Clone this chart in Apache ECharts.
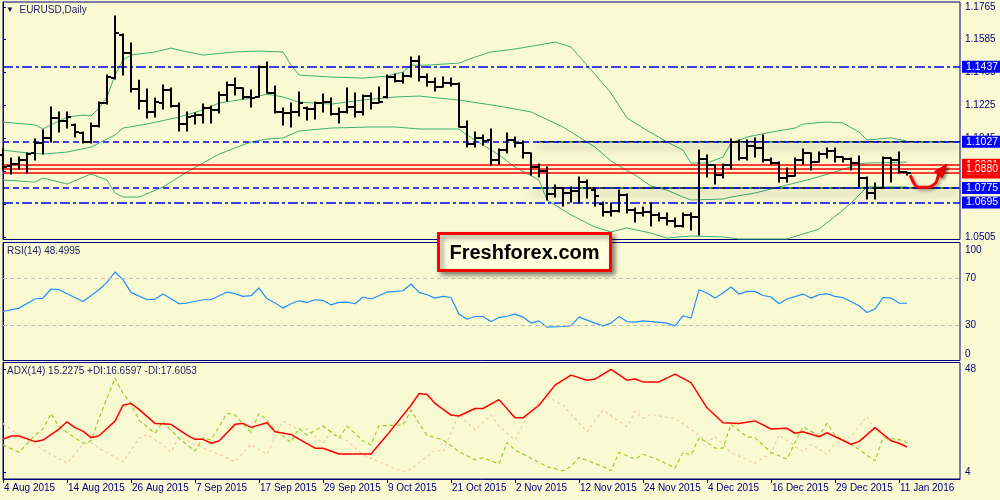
<!DOCTYPE html>
<html><head><meta charset="utf-8">
<script src="https://cdn.jsdelivr.net/npm/echarts@6/dist/echarts.min.js"></script>
<style>html,body{margin:0;padding:0;background:#FAFAD2}#c{width:1000px;height:500px}</style>
</head><body><div id="c"></div>
<script>
// ---- tick labels / categories ----
const dateLabels = ['4 Aug 2015','14 Aug 2015','26 Aug 2015','7 Sep 2015','17 Sep 2015','29 Sep 2015','9 Oct 2015','21 Oct 2015','2 Nov 2015','12 Nov 2015','24 Nov 2015','4 Dec 2015','16 Dec 2015','29 Dec 2015','11 Jan 2016'];
const barsPerLabel = 8;
const priceTicks = [1.0505,1.0685,1.0865,1.1045,1.1225,1.1405,1.1585,1.1765];
const rsiTicks = [0,30,70,100];
const rsiLevels = [30,70];
const adxTicks = [4,48];

// ---- daily OHLC bars (EURUSD) ----
const open = [1.0955,1.0895,1.0906,1.0927,1.0966,1.1020,1.1048,1.1157,1.1141,1.1119,
1.1075,1.1026,1.1113,1.1239,1.1375,1.1610,1.1512,1.1315,1.1250,1.1190,
1.1239,1.1310,1.1222,1.1124,1.1168,1.1173,1.1211,1.1201,1.1283,1.1337,
1.1321,1.1272,1.1272,1.1435,1.1293,1.1190,1.1184,1.1190,1.1211,1.1206,
1.1239,1.1244,1.1179,1.1190,1.1217,1.1190,1.1277,1.1239,1.1272,1.1381,
1.1359,1.1386,1.1468,1.1381,1.1354,1.1326,1.1348,1.1343,1.1108,1.1015,
1.1048,1.1037,1.0927,1.0982,1.1037,1.1020,1.0966,1.0889,1.0867,1.0742,
1.0774,1.0747,1.0758,1.0807,1.0763,1.0687,1.0643,1.0649,1.0736,1.0654,
1.0638,1.0643,1.0627,1.0610,1.0594,1.0567,1.0627,1.0616,1.0933,1.0900,
1.0845,1.0900,1.1026,1.0938,1.1004,1.0993,1.0927,1.0911,1.0829,1.0840,
1.0927,1.0966,1.0916,1.0960,1.0977,1.0944,1.0933,1.0911,1.0829,1.0747,
1.0774,1.0938,1.0927,1.0862];
const high = [1.0987,1.0938,1.0944,1.0966,1.1042,1.1091,1.1217,1.1190,1.1190,1.1124,
1.1080,1.1130,1.1244,1.1392,1.1714,1.1616,1.1567,1.1364,1.1315,1.1266,
1.1337,1.1321,1.1239,1.1190,1.1184,1.1233,1.1222,1.1299,1.1354,1.1375,
1.1321,1.1310,1.1441,1.1463,1.1332,1.1211,1.1239,1.1299,1.1217,1.1244,
1.1288,1.1266,1.1211,1.1321,1.1293,1.1283,1.1293,1.1326,1.1392,1.1397,
1.1403,1.1490,1.1496,1.1397,1.1375,1.1381,1.1375,1.1348,1.1141,1.1080,
1.1064,1.1097,1.0987,1.1075,1.1053,1.1031,1.0966,1.0906,1.0889,1.0791,
1.0774,1.0780,1.0835,1.0818,1.0774,1.0698,1.0692,1.0763,1.0742,1.0665,
1.0671,1.0692,1.0638,1.0638,1.0610,1.0638,1.0638,1.0982,1.0955,1.0900,
1.0906,1.1042,1.1037,1.1037,1.1048,1.1064,1.0938,1.0916,1.0884,1.0938,
1.0987,1.0966,1.0971,1.0993,1.0993,1.0944,1.0938,1.0949,1.0835,1.0802,
1.0944,1.0938,1.0971,1.0862];
const low = [1.0873,1.0851,1.0878,1.0856,1.0927,1.0960,1.1026,1.1080,1.1102,1.1053,
1.1020,1.1020,1.1108,1.1233,1.1370,1.1392,1.1299,1.1206,1.1157,1.1162,
1.1206,1.1217,1.1086,1.1086,1.1124,1.1130,1.1130,1.1184,1.1250,1.1283,
1.1261,1.1217,1.1272,1.1293,1.1184,1.1119,1.1108,1.1168,1.1146,1.1151,
1.1190,1.1173,1.1130,1.1184,1.1162,1.1173,1.1206,1.1239,1.1266,1.1354,
1.1348,1.1381,1.1359,1.1332,1.1304,1.1326,1.1332,1.1108,1.0998,1.0998,
1.1009,1.0900,1.0906,1.0966,1.0998,1.0938,1.0845,1.0835,1.0709,1.0725,
1.0676,1.0698,1.0692,1.0720,1.0676,1.0621,1.0621,1.0643,1.0638,1.0588,
1.0621,1.0567,1.0594,1.0572,1.0561,1.0561,1.0545,1.0517,1.0835,1.0796,
1.0829,1.0878,1.0927,1.0927,1.0944,1.0916,1.0906,1.0807,1.0807,1.0840,
1.0906,1.0873,1.0916,1.0938,1.0916,1.0916,1.0873,1.0780,1.0714,1.0714,
1.0774,1.0807,1.0856,1.0845];
const close = [1.0889,1.0906,1.0927,1.0960,1.1020,1.1048,1.1157,1.1141,1.1162,1.1080,
1.1026,1.1113,1.1239,1.1381,1.1621,1.1512,1.1315,1.1250,1.1190,1.1244,
1.1310,1.1222,1.1124,1.1162,1.1173,1.1211,1.1201,1.1283,1.1337,1.1321,
1.1272,1.1266,1.1435,1.1293,1.1190,1.1184,1.1190,1.1239,1.1206,1.1239,
1.1244,1.1179,1.1190,1.1217,1.1190,1.1277,1.1239,1.1244,1.1381,1.1359,
1.1386,1.1468,1.1381,1.1354,1.1326,1.1348,1.1343,1.1108,1.1015,1.1048,
1.1031,1.0927,1.0982,1.1037,1.1020,1.0966,1.0889,1.0867,1.0742,1.0774,
1.0747,1.0758,1.0807,1.0774,1.0731,1.0643,1.0649,1.0736,1.0654,1.0638,
1.0643,1.0627,1.0610,1.0594,1.0567,1.0627,1.0616,1.0933,1.0900,1.0845,
1.0900,1.1026,1.0938,1.1004,1.0993,1.0927,1.0911,1.0829,1.0840,1.0927,
1.0966,1.0916,1.0960,1.0977,1.0944,1.0933,1.0911,1.0829,1.0747,1.0774,
1.0938,1.0927,1.0862,1.0856];

// ---- Bollinger bands [barIndex, price] ----
const bbUpper = [[0,1.1135],[4,1.1119],[5,1.1097],[6,1.1119],[8,1.1162],[10,1.1173],[11,1.1168],[12,1.1211],[13,1.1272],[14,1.1392],[15,1.1474],[16,1.1501],[19,1.1518],[21,1.1539],[23,1.1518],[25,1.1501],[29,1.1518],[32,1.1523],[35,1.1518],[36,1.1446],[37,1.1392],[41,1.1381],[45,1.1375],[48,1.1386],[50,1.1408],[51,1.1446],[53,1.1446],[57,1.1457],[59,1.1490],[61,1.1518],[64,1.1534],[67,1.1556],[69,1.1572],[71,1.1545],[73,1.1446],[76,1.1293],[78,1.1157],[80,1.1102],[83,1.1026],[85,1.0982],[86,1.0911],[88,1.0911],[90,1.0944],[91,1.1020],[93,1.1053],[96,1.1080],[99,1.1102],[100,1.1124],[103,1.1135],[105,1.1130],[107,1.1080],[108,1.1037],[111,1.1048],[113,1.1031]];
const bbMiddle = [[0,1.0982],[2,1.0971],[5,1.0960],[8,1.0971],[11,1.0998],[12,1.1020],[14,1.1064],[15,1.1102],[18,1.1124],[22,1.1162],[25,1.1201],[27,1.1239],[31,1.1266],[33,1.1288],[35,1.1272],[37,1.1244],[41,1.1233],[45,1.1255],[49,1.1272],[52,1.1277],[57,1.1255],[62,1.1222],[66,1.1190],[70,1.1108],[74,1.0998],[76,1.0922],[79,1.0845],[81,1.0785],[83,1.0763],[85,1.0725],[86,1.0709],[90,1.0714],[91,1.0725],[94,1.0747],[97,1.0780],[101,1.0824],[104,1.0862],[107,1.0906],[108,1.0911],[113,1.0916]];
const bbLower = [[0,1.0818],[4,1.0807],[5,1.0829],[8,1.0796],[11,1.0851],[13,1.0818],[14,1.0747],[15,1.0725],[17,1.0725],[20,1.0780],[23,1.0862],[27,1.0960],[31,1.1026],[33,1.1042],[35,1.1048],[37,1.1086],[41,1.1102],[46,1.1108],[49,1.1108],[52,1.1097],[57,1.1097],[58,1.1064],[62,1.0955],[64,1.0889],[67,1.0818],[68,1.0709],[71,1.0627],[74,1.0561],[76,1.0534],[78,1.0556],[81,1.0528],[83,1.0501],[86,1.0512],[90,1.0507],[92,1.0496],[98,1.0496],[102,1.0550],[105,1.0654],[106,1.0692],[108,1.0780],[113,1.0780]];

// ---- horizontal levels ----
const dashDotLevels = [1.1437,1.0695];
const channelLevels = [1.1027,1.0775];
const channelStart = [66.8,66.2];
const redLevels = [1.0901,1.0859,1.0880];
const forecastPath = [[113.4,1.0845],[114.4,1.0778],[115.5,1.0778],[116.6,1.0803],[117.0,1.0851],[117.8,1.0894]];

// ---- RSI(14) [barIndex, value] ----
const rsi = [[0,41.5],[2,44.4],[4,52.1],[5,52.9],[6,60.6],[7,60],[10,50],[12,60],[13,66.2],[14,75],[15,68.5],[16,57.7],[18,51.5],[19,52],[20,56.3],[21,52.3],[22,48.1],[23,48.7],[25,51.5],[26,51.5],[28,58],[29,56.6],[30,54.3],[31,54.9],[32,61.4],[33,52.3],[34,48.7],[35,44.4],[36,48.1],[37,50.6],[38,49.2],[39,51.5],[40,50.9],[41,47.2],[42,49.2],[43,49.5],[44,48.1],[45,53.8],[46,52.1],[47,54.9],[48,58],[50,59.1],[51,64.8],[52,57.7],[53,55.7],[54,52.9],[55,54.3],[56,53.4],[57,39.3],[58,35],[59,37.3],[60,37.3],[61,33],[62,36.5],[63,37.5],[64,39.3],[65,36.8],[66,31.7],[67,33.6],[68,28.3],[70,28.8],[71,29.6],[72,36.8],[74,31.7],[75,29.4],[76,31.7],[77,37.3],[78,33],[79,32.5],[80,33.6],[81,33],[83,31.7],[84,29.4],[85,37.9],[86,35.9],[87,60],[88,57.2],[89,52.9],[90,57.2],[91,62.3],[92,56.3],[93,58.6],[94,58.6],[95,55.1],[96,53.8],[97,48.1],[98,52.1],[100,56.3],[101,52.9],[102,55.7],[103,56.6],[104,54.3],[105,53.4],[107,46.4],[108,40.7],[109,43.6],[110,53.4],[111,52.9],[112,48.7],[113,48.5]];

// ---- ADX(14), +DI, -DI [barIndex, value] ----
const adx = [[0,18.1],[1,19.5],[2,19.5],[4,17.1],[5,17.8],[7,22.5],[8,25.6],[9,23.1],[10,21.6],[11,18.8],[12,19.6],[14,25.9],[15,32.7],[16,33.5],[17,30.9],[19,24.9],[21,24.5],[23,19.9],[24,18.1],[25,18.1],[26,16.4],[27,17.4],[28,20.9],[29,24.5],[30,24.9],[31,23.2],[33,25.2],[34,21.3],[36,20.2],[37,18.2],[39,14.3],[40,14.3],[42,11.8],[46,11.8],[48,19.9],[51,32.7],[52,37.7],[53,37.3],[54,33.5],[56,28.5],[57,28.1],[59,31.3],[60,31.3],[62,35.1],[64,27.3],[65,27.3],[67,32.7],[69,41.3],[71,45.6],[73,43.4],[74,43.9],[76,48.1],[78,43.4],[79,43.9],[80,42.7],[82,42.7],[84,46],[86,42.4],[88,31.6],[90,25.2],[92,24.9],[94,26],[96,22.5],[98,22.8],[99,20.7],[100,21.3],[102,19.2],[103,20.9],[106,16],[107,17.1],[109,23.1],[111,17.5],[112,16.4],[113,14.8]];
const plusDI = [[0,15.7],[2,12.5],[4,19.9],[5,22.5],[6,29.2],[7,23.5],[10,16.4],[11,17.4],[12,27.1],[14,44.4],[15,37.7],[16,33.5],[17,26.3],[19,20.7],[20,25.6],[22,18.5],[24,13.1],[25,18.8],[26,17.8],[28,29.2],[29,28.5],[31,21.1],[32,29.2],[33,26.3],[34,22.1],[36,16.8],[37,22.8],[38,19.9],[40,23.8],[42,18.5],[43,23.8],[45,17.4],[46,15.7],[47,23.9],[50,24.2],[51,30.6],[52,24.9],[53,19.9],[55,17.8],[57,12.8],[59,9.3],[60,10.2],[62,7.6],[63,16.8],[64,13.5],[66,10],[68,6.4],[70,4.6],[71,6.4],[72,10.4],[75,6.4],[76,4.6],[77,12.5],[79,9.6],[80,11.7],[82,9.3],[84,5.7],[85,12.5],[86,11.4],[87,18.8],[88,16.8],[89,14.3],[90,14.3],[91,24.5],[93,19.2],[94,18.8],[96,12.5],[98,9.6],[99,16.8],[100,23.5],[102,19.6],[103,24.9],[104,19.9],[107,13.8],[109,8.8],[110,18.8],[112,18.1],[113,16.6]];
const minusDI = [[0,24.9],[2,19.9],[4,15.7],[6,11.7],[8,7.8],[10,16],[11,16.8],[12,14.3],[15,8.5],[17,18.5],[18,20.2],[20,15.7],[21,12.5],[22,19.2],[25,14.3],[27,11.7],[29,8.5],[31,16],[33,11.7],[35,25.9],[37,22.1],[38,22.5],[40,16.4],[41,21.3],[43,17.4],[45,11.4],[48,7.1],[50,4.3],[51,5.3],[54,13.5],[55,12.8],[57,28.8],[59,22.1],[61,28.5],[62,23.8],[64,17.8],[66,31],[68,36.3],[70,32.7],[73,21.3],[75,30.6],[78,23.5],[79,30.2],[80,27.1],[81,28.8],[83,27.5],[84,27.1],[87,19.9],[88,16.8],[89,19.2],[91,12.5],[94,7.8],[95,10.2],[96,11.7],[97,19.9],[100,12.8],[101,16],[103,11.7],[104,16.4],[106,19.2],[108,27.9],[109,22.1],[111,16.8],[112,17.8],[113,17.6]];

// ---------------- chart ----------------
const F = 'Liberation Sans, Arial, sans-serif';
const NAVY = '#000080';
const XMAX = 119.625;
const chart = echarts.init(document.getElementById('c'));
const labelIdx = dateLabels.map((_, k) => k * barsPerLabel);

function xAx(gi, showLabels) {
  return {
    type: 'value', gridIndex: gi, min: 0, max: XMAX,
    show: true,
    axisLine: {show: showLabels, lineStyle: {color: NAVY}},
    axisTick: {show: showLabels, customValues: labelIdx, length: 4, lineStyle: {color: NAVY}},
    axisLabel: {show: showLabels, customValues: labelIdx, formatter: v => dateLabels[Math.round(v / barsPerLabel)] || '',
      align: 'left', color: NAVY, fontSize: 10, fontFamily: F, margin: 4, padding: [0,0,0,1]},
    splitLine: {show: false}
  };
}
function yAx(gi, min, max, ticks, fmt, rich) {
  return {
    type: 'value', gridIndex: gi, position: 'right', min, max, scale: true,
    axisLine: {show: true, lineStyle: {color: NAVY}},
    axisTick: {show: true, customValues: ticks, length: 3, lineStyle: {color: NAVY}},
    axisLabel: {customValues: ticks, formatter: fmt, color: NAVY, fontSize: 10, fontFamily: F, margin: 5, rich},
    splitLine: {show: false}
  };
}

const lvlLabel = (bg) => ({show: true, position: 'end', distance: 2, formatter: p => Number(p.value).toFixed(4),
  color: '#fff', backgroundColor: bg, padding: [1, 4, 0, 4], fontSize: 10.5, lineHeight: 11, fontFamily: F});

const markData = [];
dashDotLevels.forEach(v => markData.push({yAxis: v, lineStyle: {color: '#0000FF', width: 1.5, type: [10,3,3,3]}, label: lvlLabel('#0000FF')}));
channelLevels.forEach(v => markData.push({yAxis: v, lineStyle: {color: '#0000FF', width: 1.5, type: [6,4]}, label: lvlLabel('#0000FF')}));
redLevels.forEach(v => markData.push({yAxis: v, lineStyle: {color: '#FF0000', width: 1.5, type: 'solid'}, label: lvlLabel('#FF0000')}));

// arrow-head direction from the last segment of the path
const pa = forecastPath[forecastPath.length - 2], pb = forecastPath[forecastPath.length - 1];

const series = [
  {type: 'line', xAxisIndex: 0, yAxisIndex: 0, data: [], z: 1,
    markLine: {silent: true, symbol: 'none', animation: false, precision: 4, data: markData}},
  ...[bbUpper, bbMiddle, bbLower].map(d => ({type: 'line', xAxisIndex: 0, yAxisIndex: 0, data: d, showSymbol: false, z: 2,
    lineStyle: {color: '#3CB371', width: 1}, clip: true})),
  ...channelLevels.map((v, k) => ({type: 'line', xAxisIndex: 0, yAxisIndex: 0, data: [[channelStart[k], v], [XMAX, v]], showSymbol: false, z: 3,
    lineStyle: {color: '#000000', width: 1.5, shadowColor: 'rgba(0,0,0,0.5)', shadowBlur: 10, shadowOffsetY: 5}})),
  ...channelLevels.map((v, k) => ({type: 'line', xAxisIndex: 0, yAxisIndex: 0, data: [[channelStart[k], v], [XMAX, v]], showSymbol: false, z: 4,
    lineStyle: {color: '#33CC33', width: 1.5, type: [3,5]}})),
  {type: 'custom', xAxisIndex: 0, yAxisIndex: 0, z: 5,
    data: open.map((o, i) => [i, o, high[i], low[i], close[i]]),
    encode: {x: 0, y: [1,2,3,4]},
    renderItem(params, api) {
      const x = api.value(0);
      const o = api.coord([x, api.value(1)]);
      const h = api.coord([x, api.value(2)]);
      const l = api.coord([x, api.value(3)]);
      const c = api.coord([x, api.value(4)]);
      const cx = Math.round(h[0]);
      const st = {stroke: '#000', lineWidth: 2};
      return {type: 'group', children: [
        {type: 'line', shape: {x1: cx, y1: h[1] - 0.5, x2: cx, y2: l[1] + 0.5}, style: st},
        {type: 'line', shape: {x1: cx - 4, y1: Math.round(o[1]), x2: cx, y2: Math.round(o[1])}, style: st},
        {type: 'line', shape: {x1: cx, y1: Math.round(c[1]), x2: cx + 4, y2: Math.round(c[1])}, style: st}
      ]};
    }
  },
  {type: 'line', xAxisIndex: 0, yAxisIndex: 0, data: forecastPath, showSymbol: false, z: 6, smooth: 0.3,
    lineStyle: {color: '#FF0000', width: 3, shadowColor: 'rgba(0,0,0,0.35)', shadowBlur: 3, shadowOffsetX: 2, shadowOffsetY: 2}},
  {type: 'custom', xAxisIndex: 0, yAxisIndex: 0, z: 7, data: [[pa[0], pa[1], pb[0], pb[1]]],
    renderItem(params, api) {
      const a = api.coord([api.value(0), api.value(1)]);
      const b = api.coord([api.value(2), api.value(3)]);
      const ang = Math.atan2(b[1] - a[1], b[0] - a[0]);
      const L = 11, W = 5;
      const bx = b[0] - L * Math.cos(ang), by = b[1] - L * Math.sin(ang);
      const nx = -Math.sin(ang) * W, ny = Math.cos(ang) * W;
      return {type: 'polygon', shape: {points: [[b[0] + 2*Math.cos(ang), b[1] + 2*Math.sin(ang)], [bx + nx, by + ny], [bx - nx, by - ny]]},
        style: {fill: '#FF0000', stroke: '#CC0000', lineWidth: 1, shadowColor: 'rgba(0,0,0,0.35)', shadowBlur: 3, shadowOffsetX: 2, shadowOffsetY: 2}};
    }
  },
  {type: 'line', xAxisIndex: 1, yAxisIndex: 1, data: rsi, showSymbol: false, z: 3,
    lineStyle: {color: '#1E90FF', width: 1.2},
    markLine: {silent: true, symbol: 'none', label: {show: false}, animation: false,
      data: rsiLevels.map(v => ({yAxis: v})), lineStyle: {color: '#C0C0C0', type: [4,3], width: 1}}},
  {type: 'line', xAxisIndex: 2, yAxisIndex: 2, data: minusDI, showSymbol: false, z: 2,
    lineStyle: {color: '#F3CBA8', width: 1.2, type: [3,3]}},
  {type: 'line', xAxisIndex: 2, yAxisIndex: 2, data: plusDI, showSymbol: false, z: 3,
    lineStyle: {color: '#9ACD32', width: 1.2, type: [4,3]}},
  {type: 'line', xAxisIndex: 2, yAxisIndex: 2, data: adx, showSymbol: false, z: 4,
    lineStyle: {color: '#FF0000', width: 1.5}}
];

const ttl = (text, left, top) => ({text, left, top, padding: 0,
  textStyle: {fontSize: 10, color: '#24246e', fontWeight: 'normal', fontFamily: F, rich: {t: {fontSize: 8, color: '#101050'}}}});

chart.setOption({
  animation: false,
  backgroundColor: '#FAFAD2',
  title: [
    ttl('{t|▼}  EURUSD,Daily', 6, 5),
    ttl('RSI(14) 48.4995', 7, 246),
    ttl('ADX(14) 15.2275 +DI:16.6597 -DI:17.6053', 7, 366)
  ],
  grid: [
    {left: 3, top: 2, width: 957, height: 237.5, show: true, borderColor: NAVY, borderWidth: 1, backgroundColor: 'transparent'},
    {left: 3, top: 242.5, width: 957, height: 118, show: true, borderColor: NAVY, borderWidth: 1, backgroundColor: 'transparent'},
    {left: 3, top: 362.5, width: 957, height: 116.5, show: true, borderColor: NAVY, borderWidth: 1, backgroundColor: 'transparent'}
  ],
  xAxis: [xAx(0, false), xAx(1, false), xAx(2, true)],
  yAxis: [
    yAx(0, 1.0493, 1.1791, priceTicks, v => v.toFixed(4)),
    yAx(1, 0, 100, rsiTicks, v => v === 100 ? '{d|100}' : (v === 0 ? '{u|0}' : String(v)),
      {d: {padding: [16,0,0,0], fontSize: 10, color: NAVY, fontFamily: F}, u: {padding: [0,0,13,0], fontSize: 10, color: NAVY, fontFamily: F}}),
    yAx(2, 1.1, 51, adxTicks, v => String(v))
  ],
  series,
  graphic: [{
    type: 'group', left: 437, top: 232, z: 100,
    children: [
      {type: 'rect', shape: {x: 0, y: 0, width: 172, height: 37},
        style: {fill: '#FFFFE0', stroke: '#FF0000', lineWidth: 3, shadowColor: 'rgba(0,0,0,0.45)', shadowBlur: 5, shadowOffsetX: 3, shadowOffsetY: 3}},
      {type: 'text', x: 86, y: 19.5, style: {text: 'Freshforex.com', align: 'center', verticalAlign: 'middle',
        font: 'bold 20px Liberation Sans, Arial, sans-serif', fill: '#000'}}
    ]
  }]
});
</script>
</body></html>
